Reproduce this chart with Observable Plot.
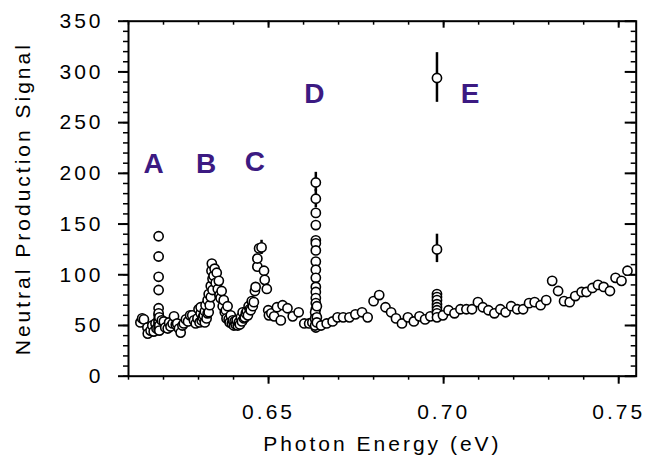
<!DOCTYPE html>
<html><head><meta charset="utf-8">
<script src="https://cdn.jsdelivr.net/npm/d3@7"></script>
<script src="https://cdn.jsdelivr.net/npm/@observablehq/plot@0.6"></script>
<style>body{margin:0;background:#fff;}</style>
</head><body><div id="chart"></div>
<script>
// Photon energy (eV) of each measurement
const energy = [
  0.6134,0.6139,0.6144,0.6154,0.6155,0.6163,0.6168,0.6172,0.6177,0.6180,
  0.6186,0.6186,0.6186,0.6186,0.6186,0.6186,0.6186,0.6186,0.6186,0.6186,0.6186,0.6186,
  0.6188,0.6188,0.6188,
  0.6195,0.6201,0.6205,0.6212,0.6216,0.6220,0.6226,0.6230,0.6235,0.6239,0.6244,0.6249,
  0.6254,0.6258,0.6264,0.6270,0.6276,0.6282,0.6287,0.6292,0.6297,
  0.6300,0.6303,0.6306,0.6306,0.6309,0.6312,0.6315,0.6318,0.6318,0.6320,0.6323,0.6326,
  0.6326,0.6329,0.6329,0.6332,0.6335,0.6335,0.6337,0.6338,0.6340,0.6340,0.6343,0.6346,
  0.6349,0.6352,0.6355,0.6358,0.6360,0.6363,0.6366,0.6369,0.6372,0.6375,0.6378,0.6380,
  0.6383,0.6386,0.6389,0.6392,0.6395,0.6398,0.6401,0.6403,0.6406,0.6409,0.6412,0.6415,
  0.6418,0.6421,0.6424,0.6426,0.6430,0.6432,0.6435,0.6438,0.6441,0.6443,0.6446,0.6449,
  0.6452,0.6455,0.6458,0.6461,0.6463,0.6468,0.6468,0.6473,0.6480,0.6487,0.6489,0.6495,
  0.6499,0.6501,0.6508,0.6516,0.6524,0.6535,0.6540,0.6554,0.6569,0.6586,0.6602,0.6616,0.6625,
  0.6635,0.6635,0.6635,0.6635,0.6635,0.6635,0.6635,0.6635,0.6635,0.6635,0.6635,0.6635,
  0.6635,0.6635,0.6635,0.6635,0.6635,0.6635,0.6635,
  0.6633,0.6633,0.6633,0.6638,0.6638,0.6638,
  0.6650,0.6666,0.6683,0.6697,0.6713,0.6731,0.6748,0.6767,0.6783,0.6800,0.6816,0.6834,
  0.6850,0.6864,0.6881,0.6898,0.6915,0.6931,0.6947,0.6962,
  0.6981,0.6981,0.6981,0.6981,0.6981,0.6981,0.6981,0.6981,0.6981,0.6981,
  0.6998,0.7014,0.7031,0.7048,0.7065,0.7081,0.7098,0.7112,0.7128,0.7145,0.7162,0.7177,
  0.7193,0.7210,0.7227,0.7244,0.7260,0.7277,0.7293,0.7310,0.7327,0.7344,0.7360,0.7376,
  0.7394,0.7408,0.7425,0.7441,0.7457,0.7475,0.7491,0.7508,0.7525
];
// Neutral production signal of each measurement
const signal = [
  53,57,56,48,42,45,50,44,52,47,
  138,118,98,85,67,60,56,52,49,46,62,54,
  58,50,45,
  55,54,48,47,53,49,52,59,51,52,47,43,
  50,52,56,54,60,60,55,52,57,
  66,53,62,68,55,58,60,53,64,70,57,75,
  62,81,63,70,89,78,104,111,96,85,99,106,
  92,102,86,94,80,77,84,69,75,63,65,57,
  69,56,53,60,52,55,50,54,51,55,50,53,
  51,58,54,63,57,58,62,64,60,69,66,65,
  74,69,73,84,88,108,116,126,127,104,95,86,
  65,60,62,59,68,55,70,67,59,63,52,52,53,
  191,175,161,149,134,131,124,113,105,97,88,83,
  77,72,66,60,55,51,48,
  63,57,50,69,58,53,
  50,52,54,58,58,58,61,63,58,74,80,68,
  63,57,52,58,54,59,56,59,
  294,125,81,78,75,71,68,65,62,58,
  60,65,62,66,66,66,73,68,65,62,66,63,
  69,66,66,72,73,70,75,94,84,74,73,79,
  83,83,87,90,88,84,97,94,104
];
// Error bars
const errEnergy = [0.6480, 0.6635, 0.6635, 0.6981, 0.6981];
const errLow    = [120, 182, 166, 270, 112];
const errHigh   = [134, 201, 184, 319, 140];
// Peak labels
const peakLabels = ["A", "B", "C", "D", "E"];
const peakEnergy = [0.6176, 0.6326, 0.6465, 0.6635, 0.7080];
const peakSignal = [209, 209, 211, 278, 278];
// Ticks
const xMajorTicks = [0.65, 0.70, 0.75];
const xMajorLabels = ["0.65", "0.70", "0.75"];
const xMinorTicks = [0.61,0.62,0.63,0.64,0.65,0.66,0.67,0.68,0.69,0.70,0.71,0.72,0.73,0.74,0.75];
const yMajorTicks = [0, 50, 100, 150, 200, 250, 300, 350];
const yMajorLabels = ["0", "50", "100", "150", "200", "250", "300", "350"];
const yMinorTicks = [0,10,20,30,40,50,60,70,80,90,100,110,120,130,140,150,160,170,180,190,200,210,220,230,240,250,260,270,280,290,300,310,320,330,340,350];
const xLabel = "Photon Energy (eV)";
const yLabel = "Neutral Production Signal";

const points = energy.map((e, i) => ({e, s: signal[i]}));
const errors = errEnergy.map((e, i) => ({e, lo: errLow[i], hi: errHigh[i]}));

const W = 645, H = 464, mL = 128, mR = 9.3, mT = 20.7, mB = 88.3;
const fw = W - mL - mR, fh = H - mT - mB;
const purple = "#3c1a82";

const chart = Plot.plot({
  width: W, height: H,
  marginLeft: mL, marginRight: mR, marginTop: mT, marginBottom: mB,
  x: {domain: [0.61, 0.755]},
  y: {domain: [0, 350]},
  style: {fontFamily: "'Liberation Sans', Arial, sans-serif", fontSize: "21px", letterSpacing: "3px", color: "black", background: "white"},
  marks: [
    // minor ticks outside (bottom/left) and inside (top/right)
    Plot.ruleX(xMinorTicks, {x: d => d, insetTop: fh, insetBottom: -4, strokeWidth: 1.5}),
    Plot.ruleX(xMinorTicks, {x: d => d, insetBottom: fh - 4, strokeWidth: 1.5}),
    Plot.ruleX(xMajorTicks, {x: d => d, insetBottom: fh - 7, strokeWidth: 2}),
    Plot.ruleY(yMinorTicks, {y: d => d, insetRight: fw, insetLeft: -5, strokeWidth: 1.5}),
    Plot.ruleY(yMinorTicks, {y: d => d, insetLeft: fw - 5, strokeWidth: 1.5}),
    Plot.ruleY(yMajorTicks, {y: d => d, insetLeft: fw - 11, strokeWidth: 2}),
    Plot.axisX(xMajorTicks, {tickSize: 8, tickPadding: 20, strokeWidth: 2, label: null,
      tickFormat: d => xMajorLabels[xMajorTicks.indexOf(d)]}),
    Plot.axisY(yMajorTicks, {tickSize: 10, tickPadding: 15, strokeWidth: 2, label: null,
      tickFormat: d => yMajorLabels[yMajorTicks.indexOf(d)]}),
    Plot.frame({stroke: "black", strokeWidth: 2}),
    Plot.ruleX(errors, {x: "e", y1: "lo", y2: "hi", stroke: "black", strokeWidth: 2.5}),
    Plot.dot(points, {x: "e", y: "s", r: 4.6, stroke: "black", fill: "white", strokeWidth: 1.6}),
    Plot.text(peakLabels, {x: (d, i) => peakEnergy[i], y: (d, i) => peakSignal[i], text: d => d,
      fill: purple, fontWeight: "bold", fontSize: 28}),
    Plot.text([yLabel], {frameAnchor: "left", textAnchor: "middle", dx: -105, rotate: -90, fontSize: 21}),
    Plot.text([xLabel], {frameAnchor: "bottom", textAnchor: "middle", dy: 75, fontSize: 21})
  ]
});
document.getElementById("chart").appendChild(chart);
</script>
</body></html>
